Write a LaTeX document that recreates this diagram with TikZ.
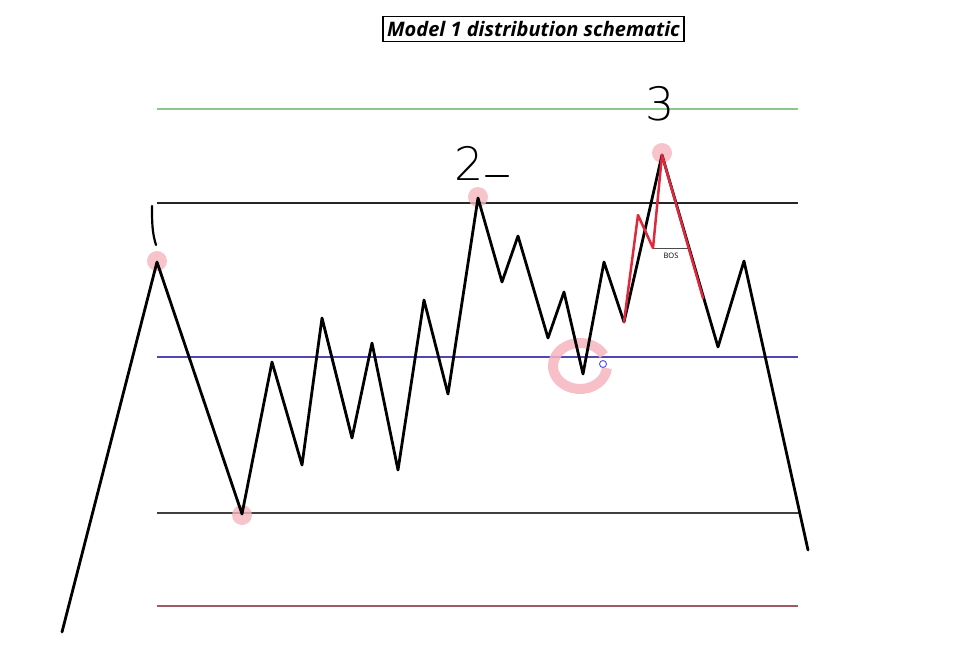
\documentclass[tikz,border=0pt]{standalone}
\usepackage{fontspec}
\setmainfont{Open Sans}
\newfontfamily\digitfont{DejaVu Sans ExtraLight}
\begin{document}
\begin{tikzpicture}[x=1pt,y=-1pt,
  level/.style={line width=1.5pt},
  price/.style={line width=2.8pt, line join=round, line cap=round, black},
  redleg/.style={line width=2.5pt, line join=round, line cap=round, color=redc},
  dot/.style={circle, fill=pinkc, fill opacity=0.8, minimum size=20pt, inner sep=0pt},
  hand/.style={font=\digitfont\fontsize{46}{46}\selectfont, inner sep=0pt},
  titlebox/.style={draw, line width=1.4pt, inner xsep=4pt, inner ysep=5pt, font=\itshape\fontsize{20}{20}\selectfont}
]
\definecolor{pinkc}{RGB}{246,182,192}
\definecolor{redc}{RGB}{222,40,60}
\definecolor{greenl}{RGB}{140,200,140}
\definecolor{bluel}{RGB}{80,70,180}
\definecolor{maroonl}{RGB}{160,90,100}
\useasboundingbox (0,0) rectangle (978,659);
\fill[white] (0,0) rectangle (978,659);

% title
\node[titlebox] (title) at (533.5,29) {\textbf{Model 1 distribution schematic}};

% levels
\coordinate (g1) at (157,109); \coordinate (g2) at (798,109);
\coordinate (h1) at (157,203); \coordinate (h2) at (798,203);
\coordinate (m1) at (157,357); \coordinate (m2) at (798,357);
\coordinate (l1) at (157,513); \coordinate (l2) at (800,513);
\coordinate (r1) at (157,606); \coordinate (r2) at (798,606);
\draw[level, greenl] (g1) -- (g2);
\draw[level, black!85] (h1) -- (h2);
\draw[line width=1.2pt, bluel] (m1) -- (m2);
\draw[level, black!75] (l1) -- (l2);
\draw[level, maroonl] (r1) -- (r2);

% pink markers
\node[dot] (d1) at (157,261) {};
\node[dot] (d2) at (478,197) {};
\node[dot] (d3) at (662,153) {};
\node[dot] (d4) at (242,515) {};
\draw[pinkc, line width=10pt, opacity=0.85] (606.9,368.0) arc[start angle=5, end angle=332, x radius=27, y radius=23];
\node[circle, draw=blue!70, line width=0.9pt, fill=white, minimum size=7pt, inner sep=0pt] (cur) at (603,364) {};

% price path
\coordinate (p0) at (62,632);
\coordinate (p1) at (157,262);
\coordinate (p2) at (242,514);
\coordinate (p3) at (272,362);
\coordinate (p4) at (302,465);
\coordinate (p5) at (322,318);
\coordinate (p6) at (352,438);
\coordinate (p7) at (372,343);
\coordinate (p8) at (398,470);
\coordinate (p9) at (424,300);
\coordinate (p10) at (448,394);
\coordinate (p11) at (478,198);
\coordinate (p12) at (502,282);
\coordinate (p13) at (518,236);
\coordinate (p14) at (548,338);
\coordinate (p15) at (564,292);
\coordinate (p16) at (583,374);
\coordinate (p17) at (604,262);
\coordinate (p18) at (624,322);
\coordinate (p19) at (662,155);
\coordinate (p20) at (718,347);
\coordinate (p21) at (744,261);
\coordinate (p22) at (808,550);
\draw[price] (p0) -- (p1) -- (p2) -- (p3) -- (p4) -- (p5) -- (p6) -- (p7) -- (p8) -- (p9) -- (p10) -- (p11) -- (p12) -- (p13) -- (p14) -- (p15) -- (p16) -- (p17) -- (p18) -- (p19) -- (p20) -- (p21) -- (p22);

% red internal structure
\coordinate (q1) at (638,215);
\coordinate (q2) at (653,248);
\coordinate (q3) at (703,298);
\coordinate (bos) at (688,248);
\draw[line width=0.8pt, black!70] (q2) -- (bos);
\node[font=\fontsize{7.5}{7.5}\selectfont, inner sep=0pt] (bostext) at (671,256) {BOS};
\draw[redleg] (p18) -- (q1) -- (q2) -- (p19) -- (q3);

% handwritten labels
\draw[line width=2.2pt, line cap=round] (152,206) .. controls (152,222) and (152,232) .. (156,245);
\node[hand] (n2) at (469,163) {2};
\draw[line width=2.2pt, line cap=round] (486,176) -- (508,176);
\node[hand] (n3) at (660,104) {3};
\end{tikzpicture}
\end{document}
